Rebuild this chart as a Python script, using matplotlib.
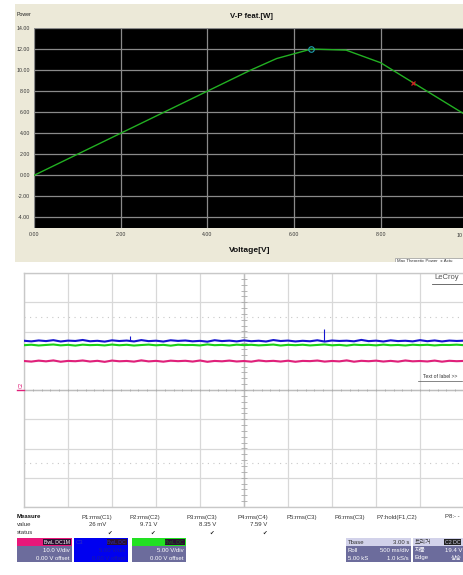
import numpy as np
import matplotlib
matplotlib.use("Agg")
import matplotlib.pyplot as plt
from matplotlib.patches import Rectangle

plt.rcParams['font.family'] = ['Liberation Sans', 'DejaVu Sans', 'Noto Sans CJK KR']

# --- V-P characteristic (top panel) ---
voltage = [0.0, 2.0, 4.0, 5.0, 5.6, 6.4, 7.2, 8.0, 8.75, 9.9, 10.5]
power = [0.0, 4.0, 8.0, 10.0, 11.1, 12.0, 11.9, 10.7, 8.8, 5.9, 4.4]
mpp_v, mpp_p = 6.4, 12.0          # cyan circle
op_v, op_p = 8.75, 8.8            # red cross
vp_xticks = [0, 2, 4, 6, 8, 10]
vp_yticks = [-4, -2, 0, 2, 4, 6, 8, 10, 12, 14]

# --- scope traces (bottom panel), volts ---
c2_volts = [9.92, 9.71, 10.05, 9.80, 10.12, 9.66, 9.95, 9.84, 10.10, 9.74, 9.98, 9.62, 10.07, 9.82,
            9.93, 9.70, 10.14, 9.78, 9.96, 9.68, 10.03, 9.86, 9.99, 9.72, 10.09, 9.64, 9.94, 9.81,
            10.06, 9.75, 9.91, 9.69, 10.11, 9.83, 9.97, 9.73, 10.02, 9.65, 9.95, 9.87, 10.08, 9.71,
            9.93, 9.79, 10.13, 9.67, 9.98, 9.84, 10.04, 9.73, 9.96, 9.70, 10.10, 9.81, 9.92, 9.76,
            10.06, 9.68, 9.99, 9.85, 9.94]
c3_volts = [8.42, 8.31, 8.47, 8.36, 8.52, 8.29, 8.44, 8.38, 8.55, 8.33, 8.41, 8.27, 8.49, 8.37,
            8.45, 8.30, 8.53, 8.35, 8.43, 8.28, 8.50, 8.39, 8.46, 8.32, 8.40, 8.26, 8.51, 8.36,
            8.44, 8.31, 8.48, 8.34, 8.42, 8.29, 8.54, 8.37, 8.45, 8.30, 8.41, 8.33, 8.50, 8.28,
            8.46, 8.38, 8.43, 8.32, 8.56, 8.35, 8.44, 8.29, 8.49, 8.36, 8.42, 8.31, 8.52, 8.34,
            8.47, 8.30, 8.45, 8.38, 8.43]
c4_volts = [7.66, 7.74, 7.61, 7.70, 7.78, 7.63, 7.72, 7.59, 7.75, 7.67, 7.71, 7.62, 7.77, 7.65,
            7.73, 7.60, 7.69, 7.76, 7.64, 7.72, 7.58, 7.74, 7.68, 7.70, 7.62, 7.79, 7.66, 7.71,
            7.61, 7.75, 7.67, 7.73, 7.63, 7.69, 7.77, 7.60, 7.72, 7.66, 7.74, 7.62, 7.70, 7.78,
            7.64, 7.71, 7.59, 7.75, 7.68, 7.72, 7.63, 7.76, 7.65, 7.70, 7.61, 7.74, 7.67, 7.73,
            7.62, 7.71, 7.69, 7.75, 7.66]
c3_spike_t = [1.20, 3.41]
c3_spike_v = [9.2, 10.4]
volts_per_div = {"C2": 10.0, "C3": 5.0, "C4": 5.0}
time_per_div = 0.5
n_div_x, n_div_y = 10, 8

measure_heads = ["P1:rms(C1)", "P2:rms(C2)", "P3:rms(C3)", "P4:rms(C4)",
                 "P5:rms(C3)", "P6:rms(C3)", "P7:hold(F1,C2)"]
measure_vals = ["26 mV", "9.71 V", "8.35 V", "7.59 V"]

W, H = 464, 575
fig = plt.figure(figsize=(W / 100, H / 100), dpi=100)


def fx(x):
    return x / W


def fy(y):
    return 1 - y / H


def prect(x0, y0, x1, y1, color, z=0, **kw):
    r = Rectangle((fx(x0), fy(y1)), (x1 - x0) / W, (y1 - y0) / H,
                  transform=fig.transFigure, facecolor=color, zorder=z, **kw)
    fig.add_artist(r)
    return r


def ptext(x, y, s, **kw):
    kw.setdefault('va', 'center')
    kw.setdefault('fontsize', 4.3)
    return fig.text(fx(x), fy(y), s, **kw)


# ===== top panel: beige frame =====
prect(15, 4, 470, 262, '#ECE9D8', edgecolor='none')
ptext(17, 15, "Power", fontsize=3.8, color='#222')
ptext(251, 16, "V-P feat.[W]", fontsize=5.6, fontweight='bold', ha='center', color='#111')
ptext(250, 251, "Voltage[V]", fontsize=6, fontweight='bold', ha='center', color='#111')

ax1 = fig.add_axes([fx(34), fy(228), 455 / W, 200 / H])
ax1.set_facecolor('black')
ax1.plot(voltage, power, color='#22B022', lw=1.0)
ax1.plot([mpp_v], [mpp_p], 'o', mfc='none', mec='#20A0B0', ms=4, mew=0.8)
ax1.plot([op_v], [op_p], 'x', color='#D02020', ms=3.5, mew=0.9)
ax1.set_xlim(0, 10.5)
ax1.set_ylim(-5, 14)
ax1.set_xticks(vp_xticks)
ax1.set_yticks(vp_yticks)
# last label sits on the right edge of the picture, drawn by hand below
ax1.set_xticklabels([f"{v:.2f}" for v in vp_xticks[:-1]] + [""])
ax1.set_yticklabels([f"{v:.2f}" for v in vp_yticks])
ax1.tick_params(length=0, labelsize=3.8, labelcolor='#333', pad=3)
ax1.grid(True, color='#8A8A8A', lw=0.9)
ax1.set_axisbelow(True)
for s in ax1.spines.values():
    s.set_visible(False)
ptext(463, 235, "10", fontsize=3.8, color='#333', ha='right')

# cut-off legend box
prect(395, 258, 470, 266, 'white', z=3, edgecolor='#999', lw=0.5)
ptext(397, 261, "Max Theoretic Power  \u25cb Actu", fontsize=3.2, color='#333', zorder=4)
prect(0, 262, 470, 272, 'white', z=5, edgecolor='none')

# ===== bottom panel: scope =====
ax2 = fig.add_axes([fx(24), fy(507), 440 / W, 234 / H])
ax2.set_xlim(0, n_div_x)
ax2.set_ylim(-n_div_y / 2, n_div_y / 2)
ax2.set_xticks(range(n_div_x + 1))
ax2.set_yticks(range(-n_div_y // 2, n_div_y // 2 + 1))
ax2.grid(True, color='#D8D8D8', lw=0.9)
ax2.tick_params(length=0, labelbottom=False, labelleft=False)
for s in ax2.spines.values():
    s.set_color('#C8C8C8')
    s.set_linewidth(1.0)
for yy in (2.5, -2.5):
    ax2.axhline(yy, color='#C8C8C8', lw=0.8, ls=(0, (1, 4)))
ax2.axhline(0, color='#BDBDBD', lw=1.0)
ax2.axvline(5, color='#BDBDBD', lw=1.0)
minor = np.arange(0, n_div_x + 0.01, 0.2)
ax2.vlines(minor, -0.05, 0.05, color='#AAAAAA', lw=0.6)
minor_y = np.arange(-4, 4.01, 0.2)
ax2.hlines(minor_y, 4.94, 5.06, color='#AAAAAA', lw=0.6)


def trace(vals, ch, color, z):
    t = np.linspace(0, n_div_x * time_per_div, len(vals))
    ax2.plot(t / time_per_div, np.array(vals) / volts_per_div[ch], color=color, lw=1.5, zorder=z)


trace(c2_volts, "C2", '#E0207A', 3)
trace(c4_volts, "C4", '#18D018', 4)
trace(c3_volts, "C3", '#1414D0', 5)
ax2.vlines(np.array(c3_spike_t) / time_per_div, 8.35 / volts_per_div["C3"],
           np.array(c3_spike_v) / volts_per_div["C3"], color='#1414D0', lw=0.8, zorder=5)

ptext(21, 385, "C2", fontsize=3.5, color='#E0207A', rotation=90, ha='center')
fig.add_artist(plt.Line2D([fx(17), fx(24)], [fy(390), fy(390)], transform=fig.transFigure,
                          color='#E0207A', lw=1.0))

ptext(447, 278, "LeCroy", fontsize=5.5, color='#555', ha='center', zorder=6)
fig.add_artist(plt.Line2D([fx(432), fx(462)], [fy(284), fy(284)], transform=fig.transFigure,
                          color='#555', lw=0.6))
ptext(440, 377, "Text of label >>", fontsize=3.6, color='#333', ha='center', zorder=6)
fig.add_artist(plt.Line2D([fx(418), fx(462)], [fy(381), fy(381)], transform=fig.transFigure,
                          color='#555', lw=0.5))

# ===== measure table =====
ptext(17, 517, "Measure", fontweight='bold', color='#111')
ptext(17, 525, "value", color='#333')
ptext(17, 533, "status", color='#333')
head_right = [112, 160, 217, 268, 317, 365, 417]
for h, xr in zip(measure_heads, head_right):
    ptext(xr, 517, h, ha='right', color='#333')
ptext(445, 517, "P8:- -", color='#333')
for v, xr in zip(measure_vals, [106, 157, 216, 267]):
    ptext(xr, 525, v, ha='right', color='#333')
for xc in [110, 153, 212, 265]:
    ptext(xc, 533, "\u2714", ha='center', fontsize=4, color='#222')

# ===== channel descriptor boxes =====
purple = '#6C6C9C'


def chan_box(x0, x1, top_color, body_color, name, tag, l1, l2, txt, name_col, tag_col):
    prect(x0, 538, x1, 562, body_color, edgecolor='none', z=2)
    prect(x0, 538, x1, 546, top_color, edgecolor='none', z=3)
    ptext(x0 + 2, 542, name, color=name_col, fontsize=4.3, zorder=5)
    t = ptext(x1 - 2, 542, tag, color=tag_col, fontsize=3.8, ha='right', zorder=5)
    t.set_bbox(dict(facecolor='#2A1030', edgecolor='none', pad=0.4))
    ptext(x1 - 2, 551, l1, color=txt, ha='right', zorder=5)
    ptext(x1 - 2, 558, l2, color=txt, ha='right', zorder=5)


chan_box(17, 72, '#E8187A', purple, "C2", "BwL DC1M", "10.0 V/div", "0.00 V offset",
         'white', '#E8187A', 'white')
chan_box(74, 128, '#0000F0', '#0000F0', "C3", "BwL DC", "5.00 V/div", "0.00 V offset",
         '#1A1AA0', '#3030C0', '#2A2AB0')
chan_box(132, 186, '#22E022', purple, "C4", "BwL DC", "5.00 V/div", "0.00 V offset",
         'white', '#22E022', '#1A6A1A')

# timebase box
prect(346, 538, 411, 562, purple, edgecolor='none', z=2)
prect(346, 538, 411, 546, '#D2D2EA', edgecolor='none', z=3)
ptext(348, 542, "Tbase", color='#333', zorder=5)
ptext(409, 542, "3.00 s", color='#333', ha='right', zorder=5)
ptext(348, 551, "Roll", color='white', zorder=5)
ptext(409, 551, "500 ms/div", color='white', ha='right', zorder=5)
ptext(348, 558, "5.00 kS", color='white', zorder=5)
ptext(409, 558, "1.0 kS/s", color='white', ha='right', zorder=5)

# trigger box (cut at right edge)
prect(413, 538, 470, 562, purple, edgecolor='none', z=2)
prect(413, 538, 470, 546, '#D2D2EA', edgecolor='none', z=3)
ptext(415, 542, "트리거", color='#333', fontsize=4.3, zorder=5)
t = ptext(445, 542, "C2 DC", color='#D2D2EA', fontsize=3.8, zorder=5)
t.set_bbox(dict(facecolor='#222', edgecolor='none', pad=0.4))
ptext(415, 551, "자동", color='white', zorder=5)
ptext(462, 551, "19.4 V", color='white', ha='right', zorder=5)
ptext(415, 558, "Edge", color='white', zorder=5)
ptext(462, 558, "상승", color='white', ha='right', zorder=5)

fig.savefig("out.png", dpi=100)
